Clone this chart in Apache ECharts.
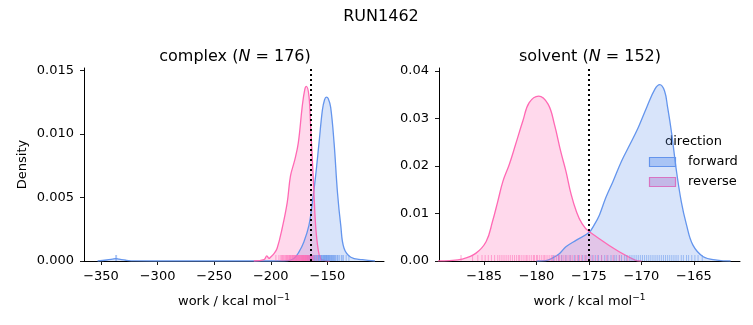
<!DOCTYPE html>
<html>
<head>
<meta charset="utf-8">
<script src="https://cdn.jsdelivr.net/npm/echarts@6/dist/echarts.min.js"></script>
<style>html,body{margin:0;padding:0;background:#fff}#c{width:753px;height:325px}</style>
</head>
<body>
<div id="c"></div>
<script>
// ---- data ----
const suptitle = 'RUN1462';
const panelNames = ['complex', 'solvent'];
const panelN = [176, 152];
const directions = ['forward', 'reverse'];

const leftTicksX = [-350, -300, -250, -200, -150];
const leftTicksY = [0, 0.005, 0.010, 0.015];
const rightTicksX = [-185, -180, -175, -170, -165];
const rightTicksY = [0, 0.01, 0.02, 0.03, 0.04];

const leftMeanLine = -165;
const rightMeanLine = -175;

// complex, forward KDE
const leftFwdX = [-353, -345, -340, -337, -334, -328, -320, -300, -250, -200, -185, -179.6, -175.2, -170.8, -166.3, -163.3, -160.4, -157.4, -154.4, -152.5, -150.9, -149.3, -147.1, -144.1, -141.1, -138.2, -135.3, -129.3, -119, -108];
const leftFwdY = [0, 0.00008, 0.00014, 0.00018, 0.00014, 0.00006, 0.00001, 0, 0, 0, 0.00003, 0.0002, 0.0007, 0.0015, 0.0028, 0.0046, 0.0067, 0.0093, 0.0119, 0.0127, 0.0129, 0.0128, 0.0121, 0.0093, 0.0054, 0.0028, 0.0010, 0.0003, 0.0001, 0];
// complex, reverse KDE
const leftRevX = [-215, -206, -203.5, -201.5, -200.3, -197, -194.4, -189.9, -185.5, -182.6, -178.7, -175.7, -172.2, -170, -168.6, -166.3, -164.8, -163.3, -161.9, -160.4, -158.3, -156, -152, -148];
const leftRevY = [0, 0.0001, 0.0004, 0.0002, 0.0003, 0.0006, 0.0010, 0.0026, 0.0046, 0.0067, 0.0080, 0.0093, 0.0122, 0.0135, 0.01375, 0.0130, 0.0106, 0.0080, 0.0054, 0.0028, 0.0010, 0.0002, 0.00003, 0];
// solvent, forward KDE
const rightFwdX = [-180, -179.1, -178.5, -177.8, -177.2, -176.2, -175, -174.5, -174, -173.4, -172.7, -171.9, -171.1, -170.3, -169.5, -168.7, -168.25, -167.8, -167.5, -167.1, -166.7, -166.2, -165.7, -165.1, -164.1, -162.8, -161.5];
const rightFwdY = [0, 0.0001, 0.0006, 0.0016, 0.0030, 0.0044, 0.0060, 0.0076, 0.0097, 0.0133, 0.0168, 0.0210, 0.0245, 0.0281, 0.0323, 0.0362, 0.0371, 0.0358, 0.0323, 0.0266, 0.0196, 0.0125, 0.0076, 0.0034, 0.0009, 0.0002, 0];
// solvent, reverse KDE
const rightRevX = [-190, -188.3, -187.1, -185.8, -184.8, -184.2, -183.7, -183.2, -182.6, -182, -181.3, -180.7, -179.8, -178.9, -178.3, -177.7, -177.2, -176.7, -176.2, -175.7, -175, -170.6, -170];
const rightRevY = [0, 0.0001, 0.0004, 0.0016, 0.0041, 0.0083, 0.0125, 0.0168, 0.0203, 0.0245, 0.0295, 0.0333, 0.0347, 0.0330, 0.0288, 0.0231, 0.0189, 0.0140, 0.0104, 0.0080, 0.0062, 0.0002, 0];

// rug values
const leftFwdRug = [-337, -336.2, -167.4, -166.2, -165.7, -164.8, -164.1, -163.5, -162.8, -162.1, -161.5, -161.0, -160.3, -159.7, -159.1, -158.4, -158.0, -157.6, -156.9, -156.4, -156.0, -155.3, -154.9, -154.7, -154.0, -153.6, -153.2, -152.8, -152.4, -152.1, -151.5, -151.2, -150.9, -150.5, -150.2, -149.6, -149.3, -149.0, -148.3, -147.9, -147.7, -147.0, -146.6, -146.2, -145.5, -145.0, -144.6, -143.8, -143.3, -142.9, -141.7, -141.0, -140.5, -139.2, -137.6, -136.9, -135.8, -133.4, -131.0];
const leftRevRug = [-195.5, -192.8, -191.2, -190.4, -189.6, -188.9, -188.1, -187.2, -186.5, -186.0, -185.3, -184.7, -184.1, -183.5, -183.0, -182.6, -182.0, -181.4, -181.0, -180.6, -180.2, -179.8, -179.3, -178.9, -178.5, -178.1, -177.7, -177.3, -176.9, -176.6, -176.2, -175.8, -175.4, -175.1, -174.7, -174.4, -174.0, -173.6, -173.2, -172.9, -172.5, -172.2, -171.9, -171.6, -171.2, -170.9, -170.6, -170.3, -169.9, -169.6, -169.3, -169.0, -168.7, -168.4, -168.0, -167.7, -167.3, -167.0, -166.6, -166.3, -165.9, -165.5, -165.0, -164.6, -164.1, -163.6, -163.0, -162.4, -160.9, -158.7, -156.2];
const rightFwdRug = [-178.4, -177.9, -177.6, -177.2, -176.8, -176.4, -176.0, -175.6, -175.3, -175.0, -174.7, -174.4, -174.1, -173.8, -173.5, -173.2, -172.9, -172.6, -172.4, -172.1, -171.9, -171.6, -171.4, -171.1, -170.9, -170.7, -170.5, -170.3, -170.1, -169.9, -169.7, -169.5, -169.3, -169.1, -168.9, -168.7, -168.5, -168.3, -168.1, -167.9, -167.7, -167.5, -167.3, -167.1, -166.9, -166.7, -166.5, -166.2, -166.0, -165.7, -165.5, -165.2, -164.9, -164.6, -164.2];
const rightRevRug = [-187.2, -186.1, -185.6, -185.2, -184.9, -184.6, -184.3, -184.0, -183.7, -183.5, -183.3, -183.1, -182.9, -182.7, -182.5, -182.3, -182.1, -181.9, -181.7, -181.6, -181.4, -181.2, -181.0, -180.9, -180.7, -180.5, -180.3, -180.2, -180.0, -179.9, -179.7, -179.5, -179.3, -179.2, -179.0, -178.8, -178.6, -178.5, -178.3, -178.1, -177.9, -177.8, -177.6, -177.4, -177.2, -177.0, -176.8, -176.6, -176.3, -176.1, -175.9, -175.7, -175.4, -175.2, -174.9, -174.6, -174.2, -173.8, -173.3, -172.7, -172.1, -171.3];

// ---- styling ----
const FONT = 'DejaVu Sans';
const BLUE = '#6495ED';
const PINK = '#FF69B4';
const zip = (xs, ys) => xs.map((x, i) => [x, ys[i]]);
const minus = v => String(v).replace('-', '\u2212');

function kde(name, color, xs, ys, idx, markX) {
  const s = {
    name: name, type: 'line', xAxisIndex: idx, yAxisIndex: idx,
    data: zip(xs, ys), smooth: 0.4, showSymbol: false, symbol: 'none', clip: true,
    lineStyle: { color: color, width: 1.3 },
    areaStyle: { color: color, opacity: 0.25 },
    z: 2, silent: true
  };
  if (markX !== undefined) {
    s.markLine = {
      silent: true, symbol: 'none', label: { show: false },
      lineStyle: { color: '#000', width: 2, type: [2, 3], opacity: 1 },
      data: [{ xAxis: markX }], z: 5
    };
  }
  return s;
}
function rug(name, color, vals, idx) {
  return {
    name: name, type: 'scatter', xAxisIndex: idx, yAxisIndex: idx,
    data: vals.map(v => [v, 0]), symbol: 'rect', symbolSize: [1, 6], symbolOffset: [0, -3],
    itemStyle: { color: color, opacity: 0.55 }, z: 3, silent: true
  };
}
function xAxis(idx, min, max, ticks) {
  return {
    type: 'value', gridIndex: idx, min: min, max: max,
    axisLine: { show: true, onZero: false, lineStyle: { color: '#000', width: 1 } },
    axisTick: { show: true, customValues: ticks, length: 4, lineStyle: { color: '#000', width: 0.9 } },
    axisLabel: { customValues: ticks, formatter: v => minus(v), color: '#000', fontFamily: FONT, fontSize: 13, margin: 9 },
    splitLine: { show: false },
    name: 'work / kcal mol{sup|\u22121}', nameLocation: 'middle', nameGap: 32,
    nameTextStyle: { color: '#000', fontFamily: FONT, fontSize: 13,
      rich: { sup: { fontSize: 9, fontFamily: FONT, color: '#000', padding: [0, 0, 9, 0] } } }
  };
}
function yAxis(idx, max, ticks, dec, name) {
  return {
    type: 'value', gridIndex: idx, min: 0, max: max,
    axisLine: { show: true, onZero: false, lineStyle: { color: '#000', width: 1 } },
    axisTick: { show: true, customValues: ticks, length: 4, lineStyle: { color: '#000', width: 0.9 } },
    axisLabel: { customValues: ticks, formatter: v => v.toFixed(dec), color: '#000', fontFamily: FONT, fontSize: 13, margin: 10 },
    splitLine: { show: false },
    name: name || '', nameLocation: 'middle', nameGap: 55, nameRotate: 90,
    nameTextStyle: { color: '#000', fontFamily: FONT, fontSize: 13 }
  };
}

const chart = echarts.init(document.getElementById('c'), null, { renderer: 'canvas' });
const titleRich = { i: { fontStyle: 'italic', fontFamily: FONT, fontSize: 16, color: '#000' } };
chart.setOption({
  animation: false,
  backgroundColor: '#fff',
  title: [
    { text: suptitle, left: 376, top: 4, textAlign: 'center', textStyle: { fontFamily: FONT, fontSize: 16, fontWeight: 'normal', color: '#000' } },
    { text: panelNames[0] + ' ({i|N} = ' + panelN[0] + ')', left: 230, top: 44, textAlign: 'center',
      textStyle: { fontFamily: FONT, fontSize: 16, fontWeight: 'normal', color: '#000', rich: titleRich } },
    { text: panelNames[1] + ' ({i|N} = ' + panelN[1] + ')', left: 585, top: 44, textAlign: 'center',
      textStyle: { fontFamily: FONT, fontSize: 16, fontWeight: 'normal', color: '#000', rich: titleRich } }
  ],
  grid: [
    { left: 84, top: 68, width: 300, height: 193 },
    { left: 439, top: 68, width: 301, height: 193 }
  ],
  xAxis: [xAxis(0, -365, -100, leftTicksX), xAxis(1, -189.3, -160.6, rightTicksX)],
  yAxis: [yAxis(0, 0.0152, leftTicksY, 3, 'Density'), yAxis(1, 0.0406, rightTicksY, 2)],
  series: [
    kde(directions[0], BLUE, leftFwdX, leftFwdY, 0, leftMeanLine),
    kde(directions[1], PINK, leftRevX, leftRevY, 0),
    rug(directions[0], BLUE, leftFwdRug, 0),
    rug(directions[1], PINK, leftRevRug, 0),
    kde(directions[0], BLUE, rightFwdX, rightFwdY, 1, rightMeanLine),
    kde(directions[1], PINK, rightRevX, rightRevY, 1),
    rug(directions[0], BLUE, rightFwdRug, 1),
    rug(directions[1], PINK, rightRevRug, 1)
  ],
  graphic: [
    { type: 'text', left: 665, top: 135, style: { text: 'direction', fontFamily: FONT, fontSize: 13, fill: '#000' } },
    { type: 'rect', shape: { x: 649.5, y: 157.5, width: 26, height: 9 }, style: { fill: 'rgba(100,149,237,0.4)', stroke: BLUE, lineWidth: 1.2 } },
    { type: 'text', left: 688, top: 155, style: { text: directions[0], fontFamily: FONT, fontSize: 13, fill: '#000' } },
    { type: 'rect', shape: { x: 649.5, y: 177.5, width: 26, height: 9 }, style: { fill: 'rgba(204,150,210,0.55)', stroke: PINK, lineWidth: 1.2 } },
    { type: 'text', left: 688, top: 175, style: { text: directions[1], fontFamily: FONT, fontSize: 13, fill: '#000' } }
  ]
});
</script>
</body>
</html>
